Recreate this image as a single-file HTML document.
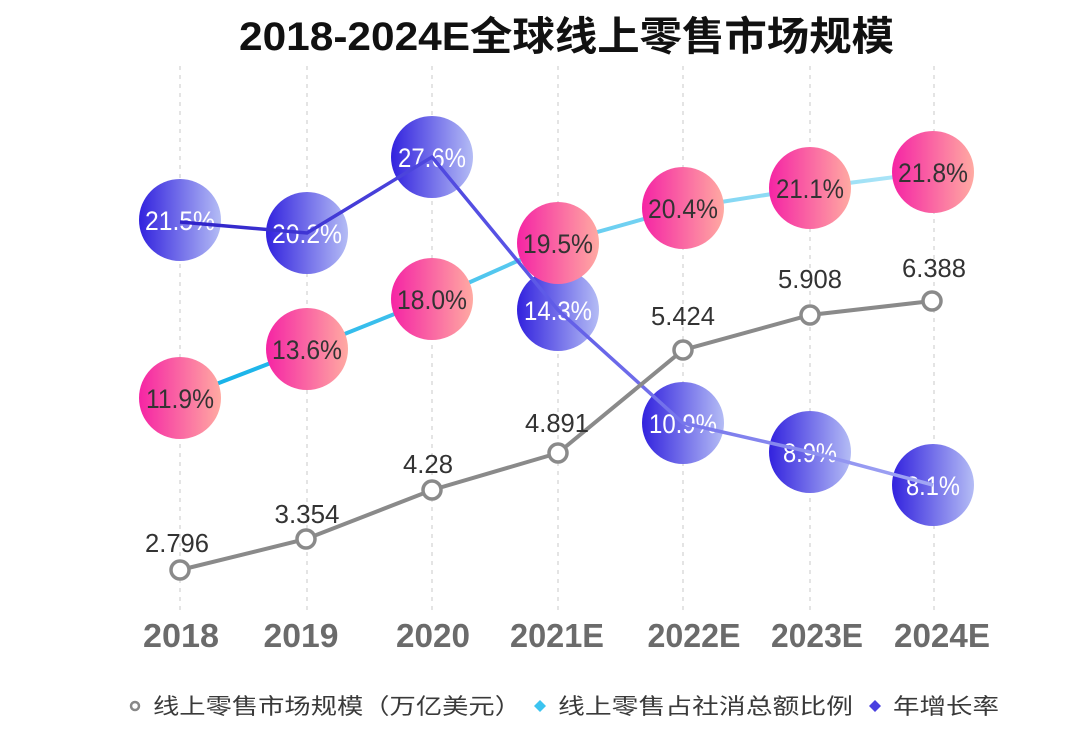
<!DOCTYPE html>
<html><head><meta charset="utf-8">
<style>
html,body{margin:0;padding:0;background:#fff;}
svg{display:block;}
text{font-family:"Liberation Sans","Noto Sans CJK SC",sans-serif;}
</style></head>
<body>
<svg width="1086" height="734" viewBox="0 0 1086 734" xmlns="http://www.w3.org/2000/svg">
<defs>
<linearGradient id="gb" x1="0" y1="0" x2="1" y2="0">
<stop offset="0" stop-color="#3222de"/>
<stop offset="1" stop-color="#b4bcf5"/>
</linearGradient>
<linearGradient id="gp" x1="0" y1="0" x2="1" y2="0">
<stop offset="0" stop-color="#f524a4"/>
<stop offset="1" stop-color="#ffaaa2"/>
</linearGradient>
<linearGradient id="lb" gradientUnits="userSpaceOnUse" x1="180" y1="0" x2="935" y2="0">
<stop offset="0" stop-color="#2e22c8"/>
<stop offset="0.45" stop-color="#5a55e6"/>
<stop offset="1" stop-color="#a3a8f4"/>
</linearGradient>
<linearGradient id="lc" gradientUnits="userSpaceOnUse" x1="180" y1="0" x2="935" y2="0">
<stop offset="0" stop-color="#0fb0e8"/>
<stop offset="1" stop-color="#b2e7f8"/>
</linearGradient>
</defs>

<!-- title -->
<text x="239" y="50" font-size="40" font-weight="bold" fill="#111" textLength="655" lengthAdjust="spacingAndGlyphs">2018-2024E全球线上零售市场规模</text>

<!-- gridlines -->
<g stroke="#dcdcdc" stroke-width="1.5" stroke-dasharray="4,5">
<line x1="180" y1="66" x2="180" y2="612"/>
<line x1="307" y1="66" x2="307" y2="612"/>
<line x1="432" y1="66" x2="432" y2="612"/>
<line x1="558" y1="66" x2="558" y2="612"/>
<line x1="683" y1="66" x2="683" y2="612"/>
<line x1="810" y1="66" x2="810" y2="612"/>
<line x1="934" y1="66" x2="934" y2="612"/>
</g>

<!-- blue bubbles -->
<g fill="url(#gb)">
<circle cx="180" cy="220" r="41"/>
<circle cx="307" cy="233" r="41"/>
<circle cx="432" cy="157" r="41"/>
<circle cx="558" cy="310" r="41"/>
<circle cx="683" cy="423" r="41"/>
<circle cx="810" cy="452" r="41"/>
<circle cx="933" cy="485" r="41"/>
</g>
<g fill="#fff" font-size="27" text-anchor="middle">
<text x="180" y="230" textLength="70" lengthAdjust="spacingAndGlyphs">21.5%</text>
<text x="307" y="243" textLength="70" lengthAdjust="spacingAndGlyphs">20.2%</text>
<text x="432" y="167" textLength="68" lengthAdjust="spacingAndGlyphs">27.6%</text>
<text x="558" y="320" textLength="68" lengthAdjust="spacingAndGlyphs">14.3%</text>
<text x="683" y="433" textLength="68" lengthAdjust="spacingAndGlyphs">10.9%</text>
<text x="810" y="462" textLength="54" lengthAdjust="spacingAndGlyphs">8.9%</text>
<text x="933" y="495" textLength="54" lengthAdjust="spacingAndGlyphs">8.1%</text>
</g>

<!-- cyan line -->
<polyline fill="none" stroke="url(#lc)" stroke-width="4" points="180,398 307,349 432,299 558,243 683,208 810,188 933,172"/>

<!-- pink bubbles -->
<g fill="url(#gp)">
<circle cx="180" cy="398" r="41"/>
<circle cx="307" cy="349" r="41"/>
<circle cx="432" cy="299" r="41"/>
<circle cx="558" cy="243" r="41"/>
<circle cx="683" cy="208" r="41"/>
<circle cx="810" cy="188" r="41"/>
<circle cx="933" cy="172" r="41"/>
</g>
<g fill="#333" font-size="27" text-anchor="middle">
<text x="180" y="408" textLength="68" lengthAdjust="spacingAndGlyphs">11.9%</text>
<text x="307" y="359" textLength="70" lengthAdjust="spacingAndGlyphs">13.6%</text>
<text x="432" y="309" textLength="70" lengthAdjust="spacingAndGlyphs">18.0%</text>
<text x="558" y="253" textLength="70" lengthAdjust="spacingAndGlyphs">19.5%</text>
<text x="683" y="218" textLength="70" lengthAdjust="spacingAndGlyphs">20.4%</text>
<text x="810" y="198" textLength="68" lengthAdjust="spacingAndGlyphs">21.1%</text>
<text x="933" y="182" textLength="70" lengthAdjust="spacingAndGlyphs">21.8%</text>
</g>

<!-- blue line -->
<polyline fill="none" stroke="url(#lb)" stroke-width="3.5" points="180,222 307,233 432,157 558,310 683,423 810,452 933,485"/>

<!-- gray line -->
<polyline fill="none" stroke="#8a8a8a" stroke-width="4" points="180,570 306,539 432,490 558,453 683,350 810,315 932,301"/>
<g fill="#fff" stroke="#8a8a8a" stroke-width="3.5">
<circle cx="180" cy="570" r="9"/>
<circle cx="306" cy="539" r="9"/>
<circle cx="432" cy="490" r="9"/>
<circle cx="558" cy="453" r="9"/>
<circle cx="683" cy="350" r="9"/>
<circle cx="810" cy="315" r="9"/>
<circle cx="932" cy="301" r="9"/>
</g>
<g fill="#333" font-size="26" text-anchor="middle">
<text x="177" y="552" textLength="64" lengthAdjust="spacingAndGlyphs">2.796</text>
<text x="307" y="523" textLength="65" lengthAdjust="spacingAndGlyphs">3.354</text>
<text x="428" y="473" textLength="50" lengthAdjust="spacingAndGlyphs">4.28</text>
<text x="557" y="432" textLength="64" lengthAdjust="spacingAndGlyphs">4.891</text>
<text x="683" y="325" textLength="64" lengthAdjust="spacingAndGlyphs">5.424</text>
<text x="810" y="288" textLength="64" lengthAdjust="spacingAndGlyphs">5.908</text>
<text x="934" y="277" textLength="64" lengthAdjust="spacingAndGlyphs">6.388</text>
</g>

<!-- x axis labels -->
<g fill="#6b6b6b" font-size="33" font-weight="bold" text-anchor="middle">
<text x="181" y="647" textLength="76" lengthAdjust="spacingAndGlyphs">2018</text>
<text x="301" y="647" textLength="75" lengthAdjust="spacingAndGlyphs">2019</text>
<text x="433" y="647" textLength="74" lengthAdjust="spacingAndGlyphs">2020</text>
<text x="557" y="647" textLength="94" lengthAdjust="spacingAndGlyphs">2021E</text>
<text x="694" y="647" textLength="93" lengthAdjust="spacingAndGlyphs">2022E</text>
<text x="817" y="647" textLength="92" lengthAdjust="spacingAndGlyphs">2023E</text>
<text x="942" y="647" textLength="96" lengthAdjust="spacingAndGlyphs">2024E</text>
</g>

<!-- legend -->
<circle cx="135" cy="706" r="4" fill="#fff" stroke="#888" stroke-width="2.5"/>
<text x="153" y="714" font-size="22" fill="#3a3a3a" textLength="368" lengthAdjust="spacingAndGlyphs">线上零售市场规模（万亿美元）</text>
<path d="M540,700 L546,706 L540,712 L534,706 Z" fill="#3cc4f0"/>
<text x="558" y="714" font-size="22" fill="#3a3a3a" textLength="295" lengthAdjust="spacingAndGlyphs">线上零售占社消总额比例</text>
<path d="M875,700 L881,706 L875,712 L869,706 Z" fill="#4a40e0"/>
<text x="893" y="714" font-size="22" fill="#3a3a3a" textLength="106" lengthAdjust="spacingAndGlyphs">年增长率</text>
</svg>
</body></html>
